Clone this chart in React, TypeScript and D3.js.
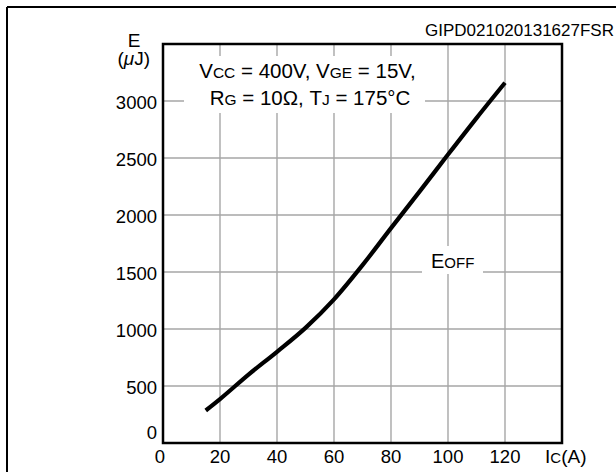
import React from "react";
import * as d3 from "d3";

// Eoff vs collector current
const icValues = [15, 20, 30, 40, 50, 60, 70, 80, 90, 100, 110, 120];
const eoffValues = [285, 385, 600, 800, 1010, 1260, 1560, 1885, 2205, 2530, 2850, 3160];

const xTicks = [0, 20, 40, 60, 80, 100, 120];
const yTicks = [0, 500, 1000, 1500, 2000, 2500, 3000];

const W = 616;
const H = 472;
const margin = { left: 163, top: 44, right: 562, bottom: 443 };
const font = "'Liberation Sans', Arial, sans-serif";

const App = () => {
  const x = d3.scaleLinear().domain([0, 140]).range([margin.left, margin.right]);
  const y = d3.scaleLinear().domain([0, 3500]).range([margin.bottom, margin.top]);

  const line = d3
    .line<number>()
    .x((d, i) => x(icValues[i]))
    .y(d => y(d))
    .curve(d3.curveMonotoneX);

  const gridX = d3.range(20, 140, 20);
  const gridY = d3.range(500, 3500, 500);

  return (
    <svg
      width={W}
      height={H}
      style={{ position: "absolute", left: 0, top: 0, background: "#fff" }}
      fontFamily={font}
    >
      {/* outer frame (only left and top visible) */}
      <line x1={7} y1={7} x2={W} y2={7} stroke="#000" strokeWidth={2} />
      <line x1={7} y1={7} x2={7} y2={H} stroke="#000" strokeWidth={2} />

      <text x={614} y={36} textAnchor="end" fontSize={17}>
        GIPD021020131627FSR
      </text>

      {/* grid */}
      {gridX.map(v => (
        <line key={"gx" + v} x1={x(v)} x2={x(v)} y1={margin.top} y2={margin.bottom} stroke="#a6a6a6" strokeWidth={1.4} />
      ))}
      {gridY.map(v => (
        <line key={"gy" + v} x1={margin.left} x2={margin.right} y1={y(v)} y2={y(v)} stroke="#a6a6a6" strokeWidth={1.4} />
      ))}

      {/* white boxes behind annotations */}
      <rect x={184} y={56} width={241} height={57} fill="#fff" />
      <rect x={422} y={246} width={61} height={28} fill="#fff" />

      <path d={line(eoffValues) || ""} fill="none" stroke="#000" strokeWidth={4.2} />

      <rect
        x={margin.left}
        y={margin.top}
        width={margin.right - margin.left}
        height={margin.bottom - margin.top}
        fill="none"
        stroke="#000"
        strokeWidth={2.5}
      />

      {/* y tick labels */}
      {yTicks.map(v => (
        <text key={"yt" + v} x={157} y={v === 0 ? y(v) - 4 : y(v) + 8} textAnchor="end" fontSize={18.5}>
          {v}
        </text>
      ))}
      {/* x tick labels */}
      {xTicks.map(v => (
        <text key={"xt" + v} x={x(v) - (v === 0 ? 3 : 0)} y={463} textAnchor="middle" fontSize={18.5}>
          {v}
        </text>
      ))}

      <text x={545} y={463} fontSize={19}>
        I<tspan fontSize={15}>C</tspan>(A)
      </text>

      <text x={134} y={47} textAnchor="middle" fontSize={19}>E</text>
      <text x={150} y={65} textAnchor="end" fontSize={19}>
        (<tspan fontStyle="italic">μ</tspan>J)
      </text>

      <text x={307.5} y={78} textAnchor="middle" fontSize={20.5}>
        V<tspan fontSize={15.5}>CC</tspan> = 400V, V<tspan fontSize={15.5}>GE</tspan> = 15V,
      </text>
      <text x={310} y={105} textAnchor="middle" fontSize={20.5}>
        R<tspan fontSize={15.5}>G</tspan> = 10Ω, T<tspan fontSize={15.5}>J</tspan> = 175°C
      </text>

      <text x={431} y={268} fontSize={20}>
        E<tspan fontSize={15}>OFF</tspan>
      </text>
    </svg>
  );
};

export default App;
